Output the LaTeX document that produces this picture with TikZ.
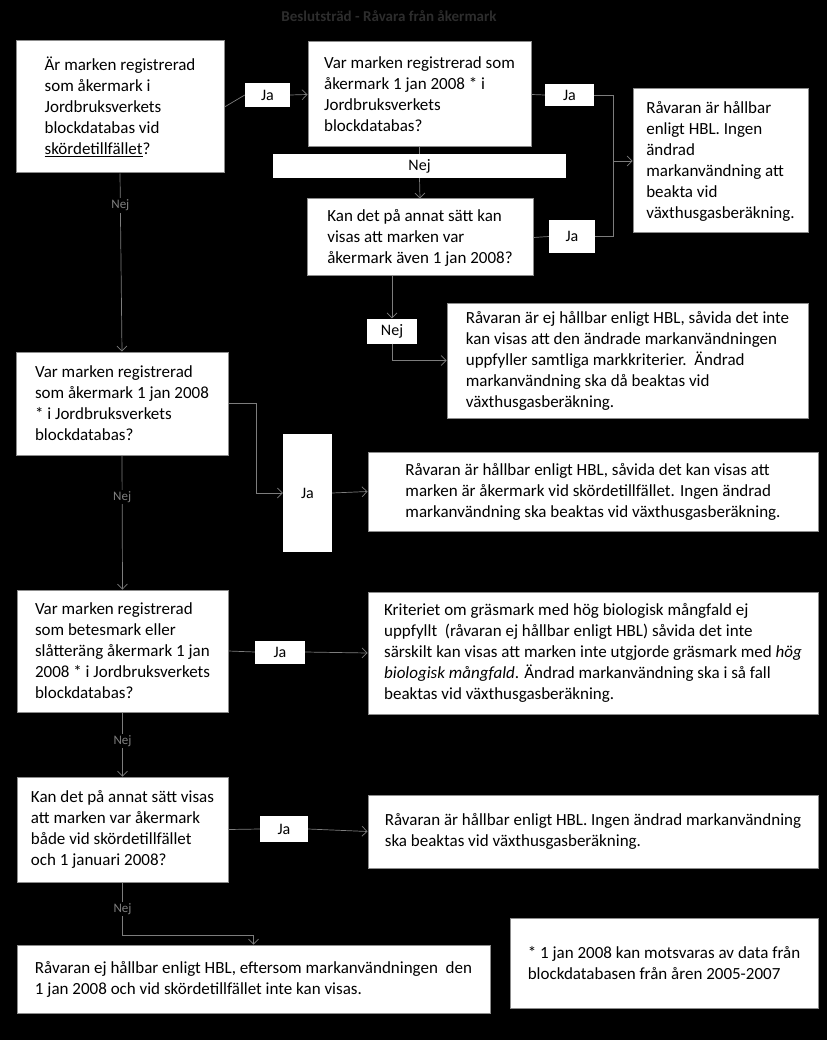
\documentclass[tikz,border=0pt]{standalone}
\usepackage{fontspec}
\setmainfont{Carlito}
\usetikzlibrary{arrows.meta}
\definecolor{linegray}{RGB}{125,125,125}
\definecolor{boxgray}{RGB}{140,140,140}
\definecolor{titlegray}{RGB}{45,45,45}

\begin{document}
\begin{tikzpicture}[x=1pt,y=-1pt,
  box/.style={draw=boxgray,fill=white,line width=1pt,align=left,inner sep=0pt,font=\fontsize{17}{21}\selectfont},
  jabox/.style={fill=white,inner sep=0pt,font=\fontsize{16}{18}\selectfont},
  conn/.style={draw=linegray,line width=0.7pt},
  arr/.style={conn,-{Straight Barb[length=5pt,width=10pt]}},
  nejlbl/.style={fill=black,text=gray,inner sep=1.5pt,font=\fontsize{13}{15}\selectfont}]
  \fill[black] (0,0) rectangle (827,1040);
  \node[text=titlegray,font=\bfseries\fontsize{15}{17}\selectfont] (title) at (389,16) {Beslutsträd - Råvara från åkermark};
  % questions
  \node[box,minimum width=208,minimum height=132] (q1) at (120,107) {Är marken registrerad\\som åkermark i\\Jordbruksverkets\\blockdatabas vid\\\underline{skördetillfället}?};
  \node[box,minimum width=223,minimum height=105] (q2) at (419.5,94.5) {Var marken registrerad som\\åkermark 1 jan 2008 * i\\Jordbruksverkets\\blockdatabas?};
  \node[box,minimum width=226,minimum height=77] (q3) at (420,237.5) {Kan det på annat sätt kan\\visas att marken var\\åkermark även 1 jan 2008?};
  \node[box,minimum width=212,minimum height=103] (q4) at (122,403.5) {Var marken registrerad\\som åkermark 1 jan 2008\\* i Jordbruksverkets\\blockdatabas?};
  \node[box,minimum width=211,minimum height=122] (q5) at (122.5,651) {Var marken registrerad\\som betesmark eller\\slåtteräng åkermark 1 jan\\2008 * i Jordbruksverkets\\blockdatabas?};
  \node[box,minimum width=211,minimum height=105] (q6) at (122.5,829.5) {Kan det på annat sätt visas\\att marken var åkermark\\både vid skördetillfället\\och 1 januari 2008?};
  % results
  \node[box,minimum width=175,minimum height=144] (r1) at (720.5,161) {Råvaran är hållbar\\enligt HBL. Ingen\\ändrad\\markanvändning att\\beakta vid\\växthusgasberäkning.};
  \node[box,minimum width=361,minimum height=115] (r2) at (627.5,360.5) {Råvaran är ej hållbar enligt HBL, såvida det inte\\kan visas att den ändrade markanvändningen\\uppfyller samtliga markkriterier.\ \ Ändrad\\markanvändning ska då beaktas vid\\växthusgasberäkning.};
  \node[box,minimum width=450,minimum height=79] (r3) at (593,491.5) {Råvaran är hållbar enligt HBL, såvida det kan visas att\\marken är åkermark vid skördetillfället. Ingen ändrad\\markanvändning ska beaktas vid växthusgasberäkning.};
  \node[box,minimum width=450,minimum height=122] (r4) at (593,653) {Kriteriet om gräsmark med hög biologisk mångfald ej\\uppfyllt\ \ (råvaran ej hållbar enligt HBL) såvida det inte\\särskilt kan visas att marken inte utgjorde gräsmark med \textit{hög}\\\textit{biologisk mångfald}. Ändrad markanvändning ska i så fall\\beaktas vid växthusgasberäkning.};
  \node[box,minimum width=450,minimum height=73] (r5) at (593,831.5) {Råvaran är hållbar enligt HBL. Ingen ändrad markanvändning\\ska beaktas vid växthusgasberäkning.};
  \node[box,minimum width=473,minimum height=68] (r6) at (253.5,979) {Råvaran ej hållbar enligt HBL, eftersom markanvändningen\ \ den\\1 jan 2008 och vid skördetillfället inte kan visas.};
  \node[box,minimum width=308,minimum height=90] (foot) at (664,963) {* 1 jan 2008 kan motsvaras av data från\\blockdatabasen från åren 2005-2007};
  % answer boxes
  \node[jabox,minimum width=45,minimum height=24] (ja1) at (267.5,95) {Ja};
  \node[jabox,minimum width=49,minimum height=22] (ja2) at (569.5,95) {Ja};
  \node[jabox,minimum width=46,minimum height=33] (ja3) at (572,236.5) {Ja};
  \node[jabox,minimum width=49,minimum height=118] (ja4) at (307.5,493) {Ja};
  \node[jabox,minimum width=50,minimum height=23] (ja5) at (280,652) {Ja};
  \node[jabox,minimum width=48,minimum height=26] (ja6) at (284,829) {Ja};
  \node[jabox,minimum width=293,minimum height=24] (nej1) at (419.5,166) {Nej};
  \node[jabox,minimum width=50,minimum height=25] (nej2) at (392,331) {Nej};
  \coordinate (knee) at (613,161);
  % connectors
  \draw[conn] (q1.east) -- (ja1.west);
  \draw[arr] (ja1.east) -- (q2.west);
  \draw[conn] (q2.east) -- (ja2.west);
  \draw[conn] (ja2.east) -| (knee) |- (ja3.east);
  \draw[arr] (knee) -- (r1.west);
  \draw[conn] (q3.east) -- (ja3.west);
  \draw[conn] (q2.south) -- (nej1.north);
  \draw[arr] (nej1.south) -- (q3.north);
  \draw[arr] ([xshift=-28]q3.south) -- (nej2.north);
  \draw[arr] (nej2.south) |- (r2.west);
  \draw[arr] (q1.south) -- node[pos=0.18,nejlbl] (n1) {Nej} (q4.north);
  \draw[arr] (q4.east) -- ++(28,0) |- (ja4.west);
  \draw[arr] (ja4.east) -- (r3.west);
  \draw[arr] (q4.south) -- node[pos=0.31,nejlbl] (n2) {Nej} (q5.north);
  \draw[conn] (q5.east) -- (ja5.west);
  \draw[arr] (ja5.east) -- (r4.west);
  \draw[arr] (q5.south) -- node[pos=0.45,nejlbl] (n3) {Nej} (q6.north);
  \draw[conn] (q6.east) -- (ja6.west);
  \draw[arr] (ja6.east) -- (r5.west);
  \draw[arr] (q6.south) -- node[pos=0.5,nejlbl] (n4) {Nej} ++(0,53) -| (r6.north);
\end{tikzpicture}
\end{document}
